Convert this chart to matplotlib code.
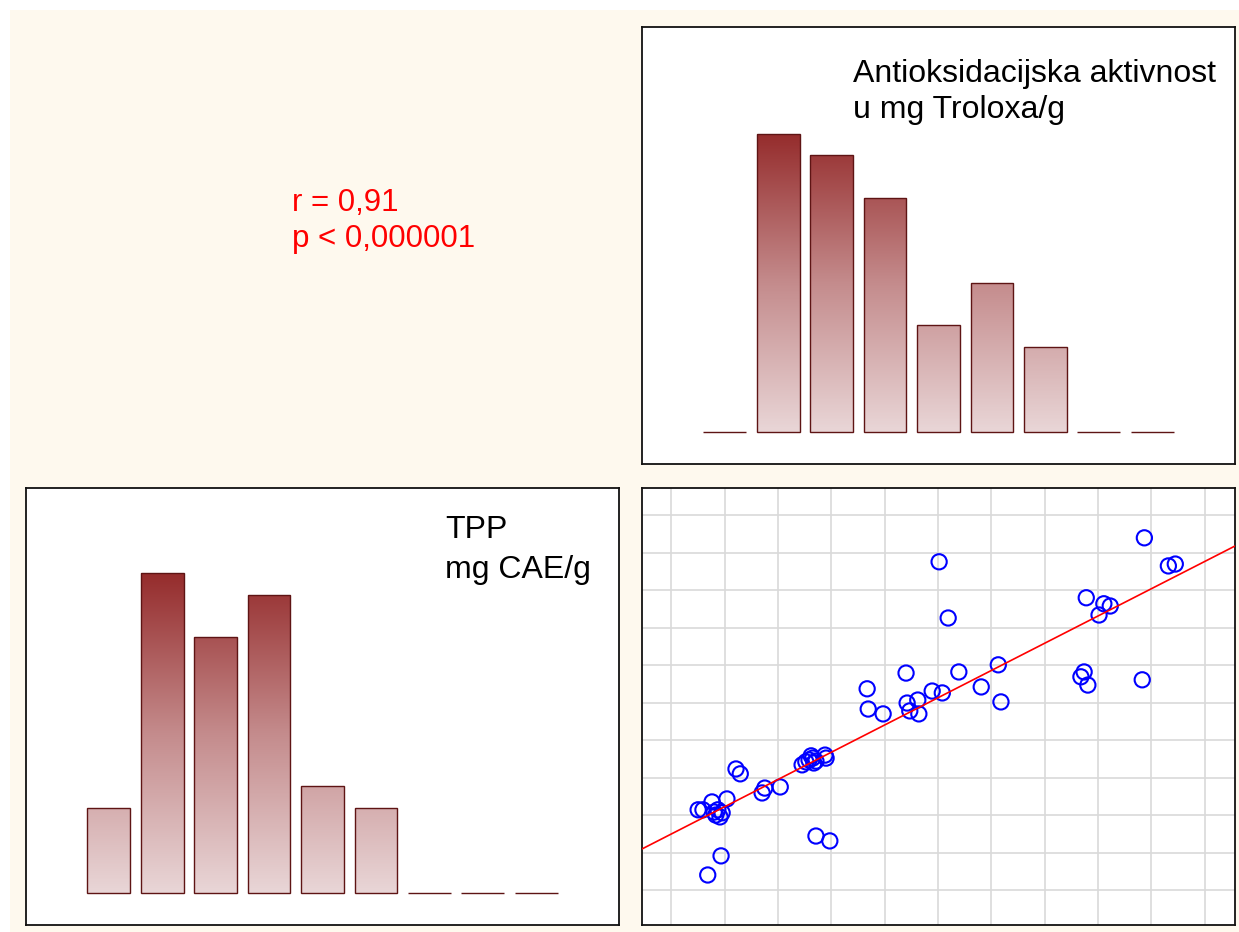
import numpy as np
import matplotlib
matplotlib.use("Agg")
import matplotlib.pyplot as plt
from matplotlib.colors import LinearSegmentedColormap
from matplotlib.patches import Rectangle

plt.rcParams['font.family'] = ['Liberation Sans', 'DejaVu Sans']

# histogram counts (9 bins each)
tpp_counts = [4, 15, 12, 14, 5, 4, 0, 0, 0]
antiox_counts = [0, 14, 13, 11, 5, 7, 4, 0, 0]

# scatter: TPP (x) vs antioxidant activity (y), in grid units
tpp_x = [8.87, 5.02, 9.32, 9.45, 7.78, 8.11, 8.23, 8.02, 5.19, 6.13,
         4.40, 5.39, 7.74, 7.68, 7.81, 8.83, 3.67, 5.81, 4.89, 5.08,
         4.42, 4.62, 4.47, 4.64, 3.69, 3.97, 6.18, 1.21, 1.29, 2.45,
         2.52, 2.62, 2.58, 2.67, 2.88, 2.90, 2.71, 2.04, 1.75, 1.70,
         1.04, 0.76, 0.50, 0.59, 0.87, 0.95, 0.91, 0.83, 2.71, 2.97,
         0.93, 0.68, 2.65, 0.80]
antiox_y = [9.40, 8.76, 8.65, 8.70, 7.80, 7.64, 7.58, 7.34, 7.26, 6.01,
            5.79, 5.82, 5.82, 5.69, 5.47, 5.61, 5.37, 5.42, 5.31, 5.26,
            4.99, 5.07, 4.78, 4.70, 4.83, 4.70, 5.02, 3.23, 3.10, 3.34,
            3.42, 3.58, 3.47, 3.39, 3.60, 3.52, 3.44, 2.75, 2.72, 2.59,
            2.43, 2.35, 2.14, 2.14, 2.14, 2.06, 1.95, 2.00, 1.44, 1.31,
            0.91, 0.40, 3.52, 2.08]

stats_text = "r = 0,91\np < 0,000001"
antiox_label = "Antioksidacijska aktivnost\nu mg Troloxa/g"
tpp_label = "TPP\nmg CAE/g"

W, H = 1239, 932
bar_cmap = LinearSegmentedColormap.from_list("bars", ["#E9D6D7", "#C48B8C", "#952C2C"])


def px_axes(fig, x0, y0, x1, y1):
    """Add axes from pixel box (top-left origin)"""
    return fig.add_axes([x0 / W, 1 - y1 / H, (x1 - x0) / W, (y1 - y0) / H])


def gradient_hist(ax, counts):
    """Bars with a vertical gradient, dark at the top of the tallest bar"""
    n = len(counts)
    top = max(counts)
    bars = ax.bar(range(n), counts, width=0.8, color='none',
                  edgecolor='#5E1414', linewidth=1.0, zorder=3)
    grad = np.linspace(0, 1, 256).reshape(-1, 1)
    for bar in bars:
        x0 = bar.get_x()
        im = ax.imshow(grad, cmap=bar_cmap, aspect='auto', origin='lower',
                       extent=(x0, x0 + bar.get_width(), 0, top), zorder=2)
        im.set_clip_path(bar)
    ax.set_xlim(-1.55, n - 1 + 1.55)
    ax.set_ylim(-1.5, 19)
    ax.set_xticks([])
    ax.set_yticks([])


def style_box(ax):
    for s in ax.spines.values():
        s.set_linewidth(1.3)
        s.set_color('#111111')


fig = plt.figure(figsize=(W / 100, H / 100), dpi=100)
fig.patch.set_facecolor('white')
# cream panel behind everything
fig.patches.append(Rectangle((10 / W, 0), 1 - 10 / W, 1 - 10 / H,
                             transform=fig.transFigure, facecolor='#FEF9EE',
                             edgecolor='none', zorder=-10))

# top right: antioxidant activity histogram
ax_tr = px_axes(fig, 642, 27, 1235, 464)
gradient_hist(ax_tr, antiox_counts)
style_box(ax_tr)

# bottom left: TPP histogram
ax_bl = px_axes(fig, 26, 488, 619, 925)
gradient_hist(ax_bl, tpp_counts)
style_box(ax_bl)

# bottom right: scatter with regression line
ax_br = px_axes(fig, 642, 488, 1235, 925)
ax_br.scatter(tpp_x, antiox_y, s=120, facecolors='none', edgecolors='#0000FF',
              linewidths=1.5, zorder=3)
slope, intercept = np.polyfit(tpp_x, antiox_y, 1)
xl = np.array([-0.553, 10.57])
ax_br.plot(xl, slope * xl + intercept, color='#FF0000', lw=1.2, zorder=4)
ax_br.set_xlim(-0.553, 10.57)
ax_br.set_ylim(-0.935, 10.73)
ax_br.set_xticks(range(11))
ax_br.set_yticks(range(11))
ax_br.tick_params(length=0, labelbottom=False, labelleft=False)
ax_br.grid(True, color='#D9D9D9', lw=1.2, zorder=0)
ax_br.set_axisbelow(True)
style_box(ax_br)

# texts
fig.text(853 / W, 1 - 59 / H, antiox_label, fontsize=23, va='top', ha='left',
         linespacing=1.27)
fig.text(445 / W, 1 - 515 / H, tpp_label, fontsize=23, va='top', ha='left',
         linespacing=1.45)
fig.text(292 / W, 1 - 188 / H, stats_text, fontsize=22.5, va='top', ha='left',
         color='#FF0000', linespacing=1.27)

fig.savefig('out.png', dpi=100, facecolor=fig.get_facecolor())
